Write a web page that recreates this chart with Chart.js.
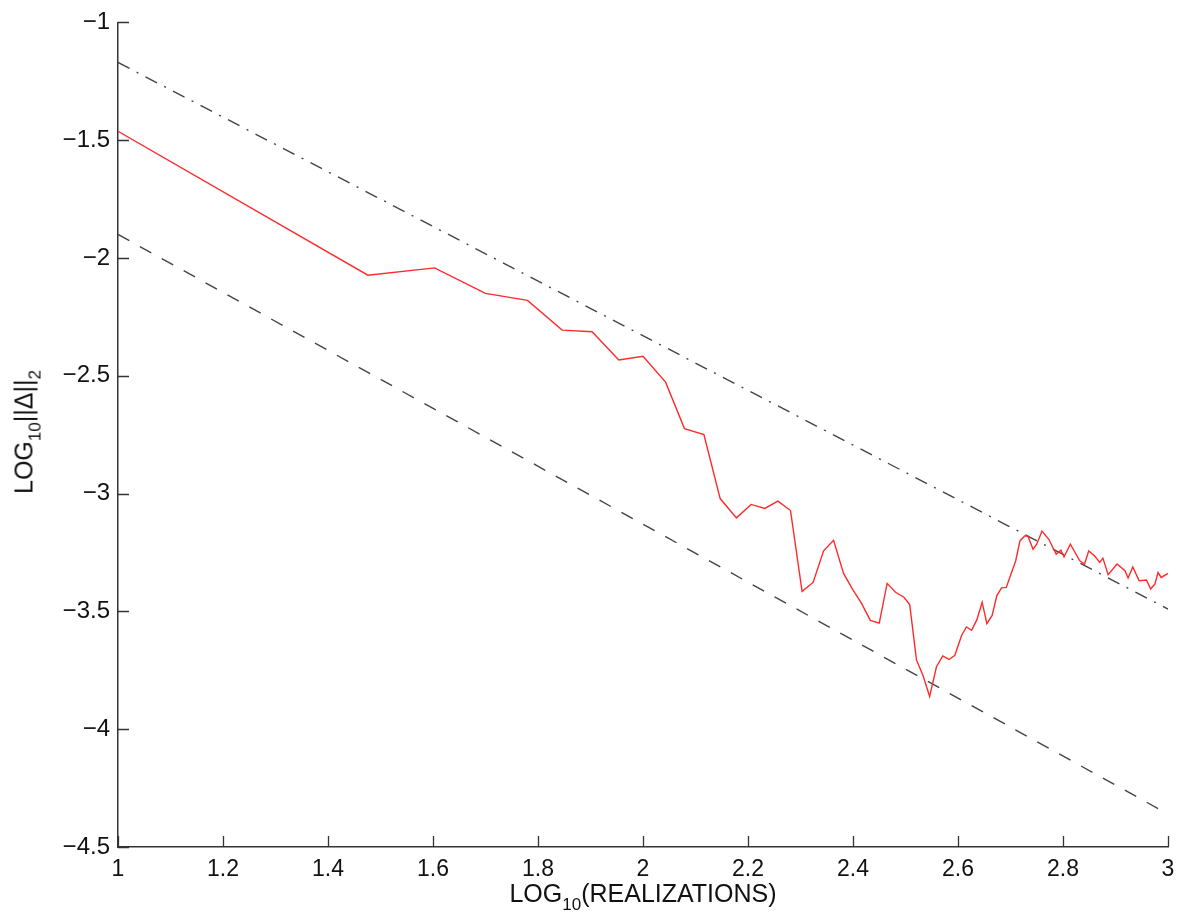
<!DOCTYPE html>
<html>
<head>
<meta charset="utf-8">
<script src="https://cdn.jsdelivr.net/npm/chart.js@4/dist/chart.umd.min.js"></script>
<style>
    html, body { margin: 0; padding: 0; background: #fff; }
    #wrap { position: relative; width: 1191px; height: 920px; }
    .axis-title {
        position: absolute;
        font-family: 'Liberation Sans', Arial, sans-serif;
        font-size: 25px;
        color: #111;
        white-space: nowrap;
        line-height: 1;
    }
    .axis-title sub { font-size: 17px; vertical-align: -8px; line-height: 0; }
    #xTitle { left: 643px; top: 881px; transform: translateX(-50%); }
    #yTitle { left: 24px; top: 432px; transform: translate(-50%, -50%) rotate(-90deg); }
</style>
</head>
<body>
<div id="wrap">
    <canvas id="errChart" width="1191" height="920"></canvas>
    <div class="axis-title" id="xTitle">LOG<sub>10</sub>(REALIZATIONS)</div>
    <div class="axis-title" id="yTitle">LOG<sub>10</sub>||Δ||<sub>2</sub></div>
</div>
<script>
// ===== data =====
const xTicks = [1, 1.2, 1.4, 1.6, 1.8, 2, 2.2, 2.4, 2.6, 2.8, 3];
const yTicks = [-1, -1.5, -2, -2.5, -3, -3.5, -4, -4.5];

// error curve (log10 realizations, log10 ||Δ||2)
const errX = [
    1.000, 1.476, 1.603, 1.700, 1.780, 1.846, 1.903, 1.954, 2.000, 2.043,
    2.079, 2.116, 2.147, 2.178, 2.206, 2.232, 2.257, 2.281, 2.303, 2.324,
    2.344, 2.363, 2.382, 2.399, 2.416, 2.433, 2.450, 2.465, 2.481, 2.497,
    2.508, 2.521, 2.533, 2.546, 2.559, 2.571, 2.583, 2.594, 2.607, 2.616,
    2.626, 2.636, 2.646, 2.655, 2.665, 2.674, 2.683, 2.692, 2.702, 2.710,
    2.718, 2.727, 2.733, 2.743, 2.750, 2.760, 2.773, 2.787, 2.796, 2.802,
    2.814, 2.832, 2.841, 2.849, 2.860, 2.870, 2.876, 2.886, 2.903, 2.918,
    2.924, 2.933, 2.945, 2.959, 2.967, 2.975, 2.981, 2.987, 3.000
];
const errY = [
    -1.462, -2.073, -2.042, -2.150, -2.180, -2.306, -2.313, -2.433, -2.417, -2.527,
    -2.724, -2.749, -3.021, -3.103, -3.046, -3.063, -3.032, -3.072, -3.415, -3.377,
    -3.243, -3.198, -3.339, -3.405, -3.465, -3.538, -3.550, -3.381, -3.419, -3.440,
    -3.471, -3.707, -3.770, -3.861, -3.735, -3.689, -3.704, -3.686, -3.601, -3.566,
    -3.580, -3.535, -3.461, -3.552, -3.517, -3.433, -3.400, -3.398, -3.335, -3.285,
    -3.201, -3.180, -3.180, -3.236, -3.215, -3.159, -3.194, -3.257, -3.240, -3.269,
    -3.215, -3.285, -3.299, -3.243, -3.264, -3.292, -3.274, -3.344, -3.299, -3.327,
    -3.358, -3.311, -3.370, -3.367, -3.405, -3.384, -3.335, -3.356, -3.339
];

// reference slopes
const upperX = [1, 3];
const upperY = [-1.17, -3.49];
const lowerX = [1, 3];
const lowerY = [-1.90, -4.36];

const toPoints = (xs, ys) => xs.map((x, i) => ({ x, y: ys[i] }));
const FONT = "'Liberation Sans', Arial, sans-serif";

// inward tick marks (matlab style)
const inwardTicks = {
    id: 'inwardTicks',
    afterDraw(chart) {
        const { ctx, chartArea, scales } = chart;
        const len = 11;
        ctx.save();
        ctx.strokeStyle = '#333';
        ctx.lineWidth = 1.3;
        ctx.beginPath();
        xTicks.forEach(v => {
            const px = Math.round(scales.x.getPixelForValue(v)) + 0.5;
            ctx.moveTo(px, chartArea.bottom);
            ctx.lineTo(px, chartArea.bottom - len);
        });
        yTicks.forEach(v => {
            const py = Math.round(scales.y.getPixelForValue(v)) + 0.5;
            ctx.moveTo(chartArea.left, py);
            ctx.lineTo(chartArea.left + len, py);
        });
        ctx.stroke();
        ctx.restore();
    }
};

new Chart(document.getElementById('errChart'), {
    type: 'line',
    data: {
        datasets: [
            {
                label: 'error',
                data: toPoints(errX, errY),
                borderColor: '#ff2a2a',
                borderWidth: 1.4,
                pointRadius: 0,
                tension: 0
            },
            {
                label: 'upper',
                data: toPoints(upperX, upperY),
                borderColor: '#444',
                borderWidth: 1.4,
                borderDash: [13, 8, 2, 8],
                pointRadius: 0
            },
            {
                label: 'lower',
                data: toPoints(lowerX, lowerY),
                borderColor: '#444',
                borderWidth: 1.4,
                borderDash: [13, 12],
                pointRadius: 0
            }
        ]
    },
    options: {
        responsive: false,
        animation: false,
        layout: { padding: { top: 18, right: 23, left: 0, bottom: 0 } },
        plugins: {
            legend: { display: false },
            tooltip: { enabled: false }
        },
        scales: {
            x: {
                type: 'linear',
                min: 1,
                max: 3,
                afterBuildTicks: s => { s.ticks = xTicks.map(v => ({ value: v })); },
                afterFit: s => { s.height = 73; },
                grid: { display: false, drawTicks: false },
                border: { display: true, color: '#333', width: 1.5 },
                ticks: {
                    color: '#111',
                    padding: 9,
                    maxRotation: 0,
                    font: { family: FONT, size: 23 },
                    callback: v => String(v)
                }
            },
            y: {
                type: 'linear',
                min: -4.5,
                max: -1,
                afterBuildTicks: s => { s.ticks = yTicks.map(v => ({ value: v })); },
                afterFit: s => { s.width = 118; },
                grid: { display: false, drawTicks: false },
                border: { display: true, color: '#333', width: 1.5 },
                ticks: {
                    color: '#111',
                    padding: 8,
                    font: { family: FONT, size: 24 },
                    callback: v => String(v).replace('-', '\u2212')
                }
            }
        }
    },
    plugins: [inwardTicks]
});
</script>
</body>
</html>
